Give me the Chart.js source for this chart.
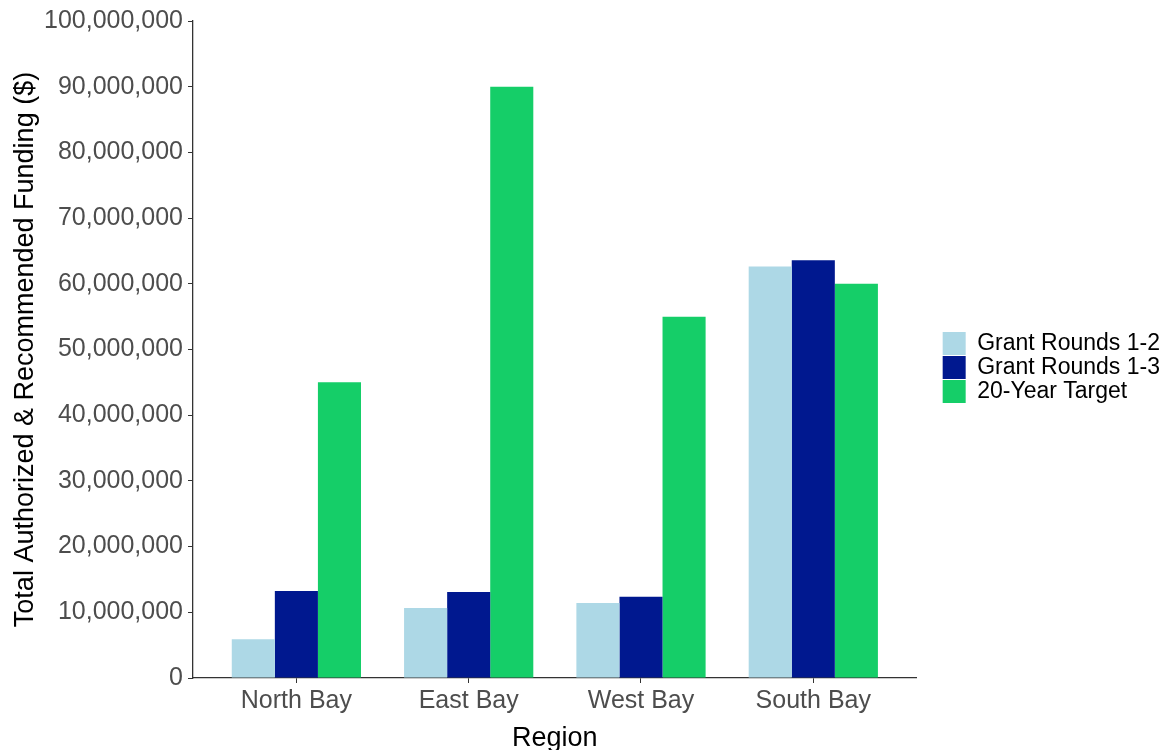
<!DOCTYPE html>
<html>
<head>
<meta charset="utf-8">
<script src="https://cdn.jsdelivr.net/npm/chart.js@4/dist/chart.umd.min.js"></script>
<style>
  html, body { margin: 0; padding: 0; background: #fff; }
  #wrap { width: 1169px; height: 750px; }
</style>
</head>
<body>
<div id="wrap"><canvas id="fundingChart" width="1169" height="750"></canvas></div>
<script>
// Funding by region
const regions = ["North Bay", "East Bay", "West Bay", "South Bay"];
const grantRounds12 = [5900000, 10650000, 11400000, 62650000];
const grantRounds13 = [13250000, 13100000, 12350000, 63600000];
const target20Year = [45000000, 90000000, 55000000, 60000000];
const seriesNames = ["Grant Rounds 1-2", "Grant Rounds 1-3", "20-Year Target"];
const yTickValues = [0, 10000000, 20000000, 30000000, 40000000, 50000000,
                     60000000, 70000000, 80000000, 90000000, 100000000];

const seriesColors = ["#ADD8E6", "#00188F", "#15CE68"];
const axisGrey = "#333333";
const tickGrey = "#4D4D4D";
const FONT = "'Liberation Sans', Arial, sans-serif";

// bars sit on a linear x axis so the ggplot-style 0.6 expansion can be kept
function toPoints(values) {
    return values.map((v, i) => ({ x: i + 1, y: v }));
}

// nudge the legend next to the panel like ggplot does
const legendPlacer = {
    id: "legendPlacer",
    afterLayout(chart) {
        const lg = chart.legend;
        const w = lg.width, h = lg.height;
        lg.left = chart.chartArea.right + 25;
        lg.right = lg.left + w;
        lg.top = chart.chartArea.top + 310;
        lg.bottom = lg.top + h;
    }
};

const ctx = document.getElementById("fundingChart").getContext("2d");

new Chart(ctx, {
    type: "bar",
    data: {
        datasets: [grantRounds12, grantRounds13, target20Year].map((vals, i) => ({
            label: seriesNames[i],
            data: toPoints(vals),
            backgroundColor: seriesColors[i],
            borderWidth: 0,
            categoryPercentage: 0.75,
            barPercentage: 1.0
        }))
    },
    plugins: [legendPlacer],
    options: {
        responsive: false,
        animation: false,
        layout: { padding: { top: 21, left: 0, right: 24, bottom: 0 } },
        plugins: {
            legend: {
                position: "right",
                align: "start",
                labels: {
                    font: { family: FONT, size: 23 },
                    color: "#000",
                    boxWidth: 23,
                    boxHeight: 23,
                    padding: 1
                }
            },
            tooltip: { enabled: false }
        },
        scales: {
            x: {
                type: "linear",
                offset: false,
                min: 0.4,
                max: 4.6,
                afterBuildTicks: scale => {
                    scale.ticks = regions.map((_, i) => ({ value: i + 1 }));
                },
                afterFit: scale => { scale.height = 72; },
                ticks: {
                    autoSkip: false,
                    maxRotation: 0,
                    padding: 3,
                    color: tickGrey,
                    font: { family: FONT, size: 25 },
                    callback: value => regions[value - 1]
                },
                grid: {
                    display: true,
                    offset: false,
                    drawOnChartArea: false,
                    drawTicks: true,
                    tickLength: 5,
                    color: axisGrey
                },
                border: { display: true, color: axisGrey, width: 1.3 },
                title: {
                    display: true,
                    text: "Region",
                    color: "#000",
                    font: { family: FONT, size: 27 },
                    padding: { top: 7, bottom: -5 }
                }
            },
            y: {
                min: 0,
                max: 100000000,
                afterBuildTicks: scale => {
                    scale.ticks = yTickValues.map(v => ({ value: v }));
                },
                afterFit: scale => { scale.width = 193; },
                ticks: {
                    padding: 5,
                    color: tickGrey,
                    font: { family: FONT, size: 25 },
                    callback: value => value.toLocaleString("en-US")
                },
                grid: {
                    display: true,
                    drawOnChartArea: false,
                    drawTicks: true,
                    tickLength: 5,
                    color: axisGrey
                },
                border: { display: true, color: axisGrey, width: 1.3 },
                title: {
                    display: true,
                    text: "Total Authorized & Recommended Funding ($)",
                    color: "#000",
                    font: { family: FONT, size: 27 },
                    padding: { top: 9, bottom: 0 }
                }
            }
        }
    }
});
</script>
</body>
</html>
